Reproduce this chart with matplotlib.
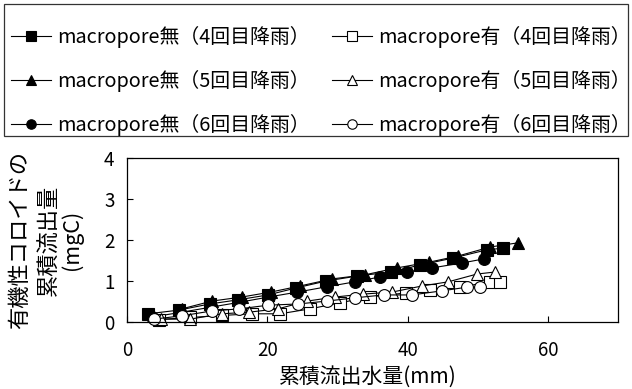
import matplotlib
matplotlib.use('Agg')
import matplotlib.pyplot as plt
from matplotlib.patches import Rectangle

plt.rcParams['font.family'] = ['Noto Sans CJK JP', 'DejaVu Sans']

labels = ['macropore無（4回目降雨）', 'macropore無（5回目降雨）', 'macropore無（6回目降雨）',
          'macropore有（4回目降雨）', 'macropore有（5回目降雨）', 'macropore有（6回目降雨）']

x_no4 = [3.0, 7.4, 11.8, 15.8, 20.1, 24.1, 28.4, 32.8, 37.6, 41.8, 46.5, 51.3, 53.6]
y_no4 = [0.20, 0.29, 0.44, 0.54, 0.66, 0.83, 1.00, 1.12, 1.22, 1.39, 1.56, 1.76, 1.80]
x_no5 = [7.8, 12.1, 16.4, 20.5, 24.7, 29.2, 33.9, 38.5, 43.1, 47.2, 51.8, 55.7]
y_no5 = [0.32, 0.51, 0.61, 0.73, 0.88, 1.05, 1.15, 1.32, 1.46, 1.61, 1.83, 1.93]
x_no6 = [3.5, 7.5, 11.9, 16.0, 20.2, 24.3, 28.5, 32.5, 36.1, 39.9, 43.5, 47.8, 50.9]
y_no6 = [0.12, 0.23, 0.36, 0.48, 0.61, 0.73, 0.86, 0.98, 1.10, 1.22, 1.32, 1.44, 1.54]

x_yes4 = [4.5, 9.0, 13.6, 17.8, 21.8, 26.1, 30.4, 34.6, 39.8, 43.2, 47.5, 51.8, 53.2]
y_yes4 = [0.06, 0.11, 0.16, 0.20, 0.20, 0.32, 0.47, 0.61, 0.71, 0.78, 0.85, 0.98, 0.98]
x_yes5 = [4.9, 9.0, 13.5, 17.4, 21.5, 25.7, 29.7, 33.6, 37.8, 42.1, 45.8, 49.9, 52.5]
y_yes5 = [0.07, 0.07, 0.20, 0.24, 0.32, 0.51, 0.61, 0.68, 0.73, 0.88, 0.98, 1.17, 1.22]
x_yes6 = [3.8, 7.8, 12.1, 16.0, 20.1, 24.4, 28.5, 32.5, 36.6, 40.6, 44.9, 48.5, 50.3]
y_yes6 = [0.07, 0.15, 0.27, 0.32, 0.41, 0.44, 0.51, 0.59, 0.66, 0.66, 0.76, 0.85, 0.85]

xticks = [0, 20, 40, 60]
yticks = [0, 1, 2, 3, 4]

W, H = 632, 389
fig = plt.figure(figsize=(W / 100, H / 100), dpi=100)
ax = fig.add_axes([127 / W, 1 - 322 / H, (618 - 127) / W, (322 - 158) / H])

series = [
    (x_no4, y_no4, 's', 'black'),
    (x_no5, y_no5, '^', 'black'),
    (x_no6, y_no6, 'o', 'black'),
    (x_yes4, y_yes4, 's', 'white'),
    (x_yes5, y_yes5, '^', 'white'),
    (x_yes6, y_yes6, 'o', 'white'),
]
handles = []
for xs, ys, m, fc in series:
    h, = ax.plot(xs, ys, '-', color='black', lw=0.8, marker=m, ms=8.5,
                 mfc=fc, mec='black', mew=0.8, clip_on=False)
    handles.append(h)

ax.set_xlim(0, 70)
ax.set_ylim(0, 4)
ax.set_xticks(xticks)
ax.set_yticks(yticks)
ax.tick_params(direction='in', length=4, width=0.8, labelsize=13.5)
ax.tick_params(axis='x', pad=13)
ax.tick_params(axis='y', pad=9)
for s in ax.spines.values():
    s.set_linewidth(0.9)

fig.text(20 / W, 1 - 240 / H, '有機性コロイドの', rotation=90, ha='center', va='center', fontsize=16)
fig.text(49 / W, 1 - 240 / H, '累積流出量', rotation=90, ha='center', va='center', fontsize=16)
fig.text(72 / W, 1 - 240 / H, '(mgC)', rotation=90, ha='center', va='center', fontsize=15.5)
fig.text(368 / W, 1 - 377 / H, '累積流出水量(mm)', ha='center', va='center', fontsize=15)

fig.patches.append(Rectangle((4 / W, 1 - 136 / H), 624 / W, 132 / H, transform=fig.transFigure,
                             fill=False, ec='#333333', lw=0.9))
fig.legend(handles, labels, ncol=2, loc='center', bbox_to_anchor=(321 / W, 1 - 81 / H),
           frameon=False, fontsize=14.3, handlelength=2.0, handletextpad=0.3,
           columnspacing=1.15, labelspacing=1.12, markerscale=0.8, borderpad=0)

fig.savefig('out.png', dpi=100)
